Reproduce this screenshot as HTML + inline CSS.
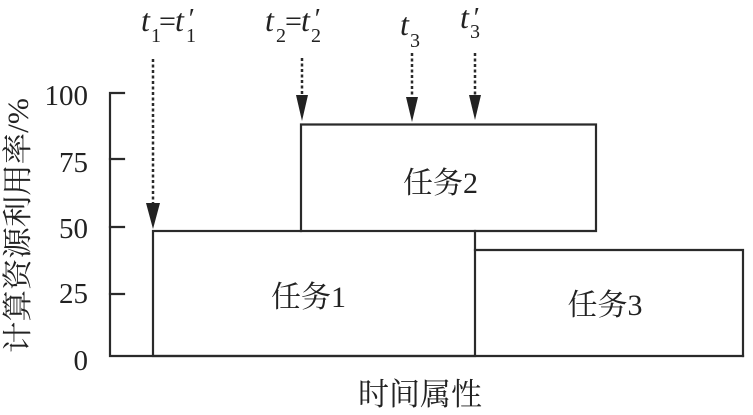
<!DOCTYPE html>
<html><head><meta charset="utf-8"><style>
html,body{margin:0;padding:0;background:#fff;}
svg{display:block;}
text{fill:#222;}
.cj{font-family:"Liberation Serif","Noto Serif CJK SC",serif;}
.it{font-family:"Liberation Serif",serif;font-style:italic;}
.rm{font-family:"Liberation Serif",serif;}
</style></head><body>
<svg width="753" height="415" viewBox="0 0 753 415" xmlns="http://www.w3.org/2000/svg">
<g stroke="#2a2a2a" stroke-width="2.2" fill="none" stroke-linecap="square">
  <polyline points="124,93 110,93 110,356 743,356"/>
  <line x1="110" y1="159" x2="124" y2="159"/>
  <line x1="110" y1="227" x2="124" y2="227"/>
  <line x1="110" y1="294" x2="124" y2="294"/>
  <rect x="153" y="231" width="322" height="125"/>
  <polyline points="301,231 301,124.5 596,124.5 596,231 475,231"/>
  <polyline points="475,250 743,250 743,356"/>
</g>
<g stroke="#2a2a2a" stroke-width="2.5" stroke-dasharray="3,2.5" fill="none">
  <line x1="153" y1="59" x2="153" y2="204"/>
  <line x1="302" y1="58" x2="302" y2="96"/>
  <line x1="412" y1="53" x2="412" y2="98"/>
  <line x1="475" y1="53" x2="475" y2="96"/>
</g>
<g fill="#222">
  <polygon points="146,203 160,203 153,229"/>
  <polygon points="296,95 308,95 302,121"/>
  <polygon points="406,97 418,97 412,122"/>
  <polygon points="469,95 481,95 475,120"/>
</g>
<g class="rm" font-size="29" text-anchor="end">
  <text x="88" y="105">100</text>
  <text x="88" y="172">75</text>
  <text x="88" y="238">50</text>
  <text x="88" y="303">25</text>
  <text x="88" y="370">0</text>
</g>
<text class="cj" font-size="30" text-anchor="middle" transform="translate(28,225.5) rotate(-90)" textLength="255" lengthAdjust="spacingAndGlyphs">计算资源利用率/%</text>
<text class="cj" font-size="31" x="420" y="405" text-anchor="middle">时间属性</text>
<text class="cj" font-size="30" x="440.5" y="193" text-anchor="middle">任务2</text>
<text class="cj" font-size="30" x="308.5" y="307" text-anchor="middle">任务1</text>
<text class="cj" font-size="30" x="605" y="315" text-anchor="middle">任务3</text>
<g>
  <text class="it" font-size="32" x="141" y="31">t</text>
  <text class="rm" font-size="20" x="151" y="42">1</text>
  <text class="rm" font-size="30" x="159" y="31">=</text>
  <text class="it" font-size="32" x="175" y="31">t</text>
  <text class="it" font-size="28" x="187" y="28">′</text>
  <text class="rm" font-size="20" x="186" y="42">1</text>

  <text class="it" font-size="32" x="265" y="31">t</text>
  <text class="rm" font-size="20" x="276" y="42">2</text>
  <text class="rm" font-size="30" x="285" y="31">=</text>
  <text class="it" font-size="32" x="301" y="31">t</text>
  <text class="it" font-size="28" x="313" y="28">′</text>
  <text class="rm" font-size="20" x="311" y="42">2</text>

  <text class="it" font-size="32" x="400" y="35">t</text>
  <text class="rm" font-size="20" x="410" y="47">3</text>

  <text class="it" font-size="32" x="460" y="28">t</text>
  <text class="it" font-size="28" x="472" y="27">′</text>
  <text class="rm" font-size="20" x="470" y="38">3</text>
</g>
</svg>
</body></html>
